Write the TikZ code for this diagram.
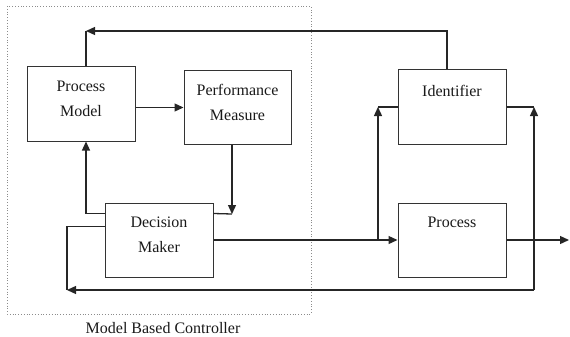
\documentclass[tikz,border=0pt]{standalone}
\usepackage{fontspec}
\setmainfont{Liberation Serif}
\usetikzlibrary{arrows.meta}
\begin{document}
\begin{tikzpicture}[x=1pt,y=-1pt,
  box/.style={draw=black!80,line width=1pt,rectangle,inner sep=0pt,minimum width=108pt,minimum height=74pt},
  lbl/.style={font=\fontsize{16}{25}\selectfont,align=center,inner sep=0pt,text=black!90},
  line/.style={draw=black!85,line width=1.3pt},
  arr/.style={line,-{Triangle[length=9pt,width=8pt]}}]
\useasboundingbox (0,0) rectangle (570,337);
\draw[dotted, black!45, line width=0.8pt] (7,6) rectangle (311,314);
% boxes
\node[box] (pm) at (81,104) {};
\node[box,minimum width=107pt,minimum height=73pt] (perf) at (237.5,107.5) {};
\node[box] (dm) at (159,240) {};
\node[box] (ident) at (452,107) {};
\node[box] (proc) at (452,240) {};
% texts
\node[lbl] (pmt) at (81,99) {Process\\Model};
\node[lbl] (perft) at (237.5,102) {Performance\\Measure};
\node[lbl] (dmt) at (159,234.5) {Decision\\Maker};
\node[lbl] (identt) at (452,91) {Identifier};
\node[lbl] (proct) at (452,222) {Process};
\node[lbl] (mbc) at (163,328) {Model Based Controller};
% coordinates
\coordinate (tl) at (86,31);
\coordinate (pd) at (232,214);
\coordinate (il) at (378,107);
\coordinate (ir) at (534,107);
\coordinate (br) at (534,290);
\coordinate (bl) at (67,290);
\coordinate (out) at (569,240);
% connectors
\draw[arr] (pm.east |- perf.west) -- (perf.west);
\draw[arr] ([xshift=-5pt]ident.north) |- (tl);
\draw[line] (tl) -- (tl |- pm.north);
\draw[arr] ([yshift=-11pt]dm.north west) -| (tl |- pm.south);
\draw[arr] (pd |- perf.south) -- (pd);
\draw[line] ([yshift=-11pt]dm.north east) -- (pd);
\draw[arr] (dm.east) -- (proc.west);
\draw[arr] (il |- proc.west) -- (il);
\draw[line] (il) -- (ident.west);
\draw[line] (ident.east) -- (ir);
\draw[arr] (br) -- (ir);
\draw[arr] (br) -- (bl);
\draw[line] ([yshift=-24pt]dm.north west) -| (bl);
\draw[arr] (proc.east) -- (out);
\end{tikzpicture}
\end{document}
